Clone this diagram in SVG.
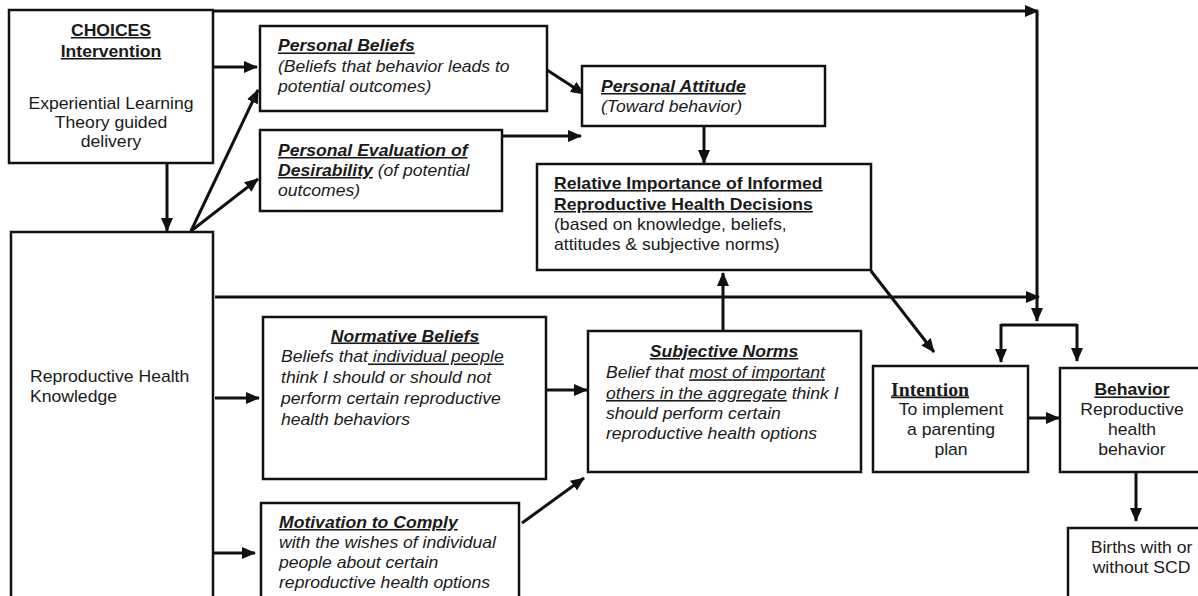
<svg xmlns="http://www.w3.org/2000/svg" width="1198" height="596" viewBox="0 0 1198 596">
<style>
.box{fill:#fff;stroke:#111;stroke-width:2.5}
.c{fill:none;stroke:#111;stroke-width:3}
.t{font-family:"Liberation Sans",Arial,sans-serif;font-size:16px;fill:#1a1a1a}
.i{font-style:italic}
.b{font-weight:bold}
.u{text-decoration:underline}
.m{text-anchor:middle}
.serif{font-family:"Liberation Serif","Times New Roman",serif;font-size:18px;font-weight:bold}
</style>
<defs>
<marker id="ah" markerUnits="userSpaceOnUse" markerWidth="14" markerHeight="12" refX="13" refY="6" orient="auto">
<path d="M0,0 L14,6 L0,12 z" fill="#111"/>
</marker>
</defs>
<rect width="1198" height="596" fill="#fff"/>

<g id="connectors">
<path class="c" d="M117,11 H1038" marker-end="url(#ah)"/>
<path class="c" d="M1037,11 V321" marker-end="url(#ah)"/>
<path class="c" d="M215,297 H1039" marker-end="url(#ah)"/>
<path class="c" d="M1001,325 H1077"/>
<path class="c" d="M1001,324 V362" marker-end="url(#ah)"/>
<path class="c" d="M1077,324 V361" marker-end="url(#ah)"/>
<path class="c" d="M213,67 H257" marker-end="url(#ah)"/>
<path class="c" d="M167,163 V231" marker-end="url(#ah)"/>
<path class="c" d="M191,231 L258,90" marker-end="url(#ah)"/>
<path class="c" d="M191,231 L258,179" marker-end="url(#ah)"/>
<path class="c" d="M547,70 L584,94" marker-end="url(#ah)"/>
<path class="c" d="M502,136 H581" marker-end="url(#ah)"/>
<path class="c" d="M704,126 V163" marker-end="url(#ah)"/>
<path class="c" d="M871,271 L934,352" marker-end="url(#ah)"/>
<path class="c" d="M723,331 V273" marker-end="url(#ah)"/>
<path class="c" d="M546,390 H587" marker-end="url(#ah)"/>
<path class="c" d="M215,398 H259" marker-end="url(#ah)"/>
<path class="c" d="M213,553 H255" marker-end="url(#ah)"/>
<path class="c" d="M522,523 L584,478" marker-end="url(#ah)"/>
<path class="c" d="M1029,418 H1059" marker-end="url(#ah)"/>
<path class="c" d="M1136,472 V521" marker-end="url(#ah)"/>
</g>

<g id="choices">
<rect class="box" x="9" y="10" width="204" height="153"/>
<text class="t b m" transform="translate(111,0) scale(1.1,1)"><tspan class="u" x="0" y="36">CHOICES</tspan><tspan class="u" x="0" y="57">Intervention</tspan></text>
<text class="t m" transform="translate(111,0) scale(1.1,1)"><tspan x="0" y="109">Experiential Learning</tspan><tspan x="0" y="128">Theory guided</tspan><tspan x="0" y="147">delivery</tspan></text>
</g>

<g id="personal-beliefs">
<rect class="box" x="260" y="26" width="287" height="85"/>
<text class="t i" transform="translate(278,0) scale(1.1,1)"><tspan class="b u" x="0" y="51.5">Personal Beliefs</tspan><tspan x="0" y="72.5">(Beliefs that behavior leads to</tspan><tspan x="0" y="92">potential outcomes)</tspan></text>
</g>

<g id="personal-evaluation">
<rect class="box" x="260" y="130" width="242" height="81"/>
<text class="t i" transform="translate(278,0) scale(1.1,1)"><tspan class="b u" x="0" y="156">Personal Evaluation of</tspan><tspan x="0" y="176"><tspan class="b u">Desirability</tspan> (of potential</tspan><tspan x="0" y="196">outcomes)</tspan></text>
</g>

<g id="personal-attitude">
<rect class="box" x="582" y="66" width="243" height="60"/>
<text class="t i" transform="translate(601,0) scale(1.1,1)"><tspan class="b u" x="0" y="92">Personal Attitude</tspan><tspan x="0" y="112"><tspan class="u">(</tspan>Toward behavior)</tspan></text>
</g>

<g id="relative-importance">
<rect class="box" x="537" y="164" width="334" height="106"/>
<text class="t" transform="translate(554,0) scale(1.1,1)"><tspan class="b u" x="0" y="189">Relative Importance of Informed</tspan><tspan class="b u" x="0" y="210">Reproductive Health Decisions</tspan><tspan x="0" y="230.5">(based on knowledge, beliefs,</tspan><tspan x="0" y="250.5">attitudes &amp; subjective norms)</tspan></text>
</g>

<g id="knowledge">
<rect class="box" x="11" y="232" width="202" height="372"/>
<text class="t" transform="translate(30,0) scale(1.1,1)"><tspan x="0" y="382.5">Reproductive Health</tspan><tspan x="0" y="402.5">Knowledge</tspan></text>
</g>

<g id="normative-beliefs">
<rect class="box" x="263" y="317" width="283" height="162"/>
<text class="t i b u m" transform="translate(405,341.5) scale(1.1,1)">Normative Beliefs</text>
<text class="t i" transform="translate(281,0) scale(1.1,1)"><tspan x="0" y="362.5">Beliefs that<tspan class="u"> individual people</tspan></tspan><tspan x="0" y="383.3">think I should or should not</tspan><tspan x="0" y="404.2">perform certain reproductive</tspan><tspan x="0" y="425">health behaviors</tspan></text>
</g>

<g id="motivation">
<rect class="box" x="261" y="503" width="258" height="100"/>
<text class="t i" transform="translate(279,0) scale(1.1,1)"><tspan class="b u" x="0" y="528">Motivation to Comply</tspan><tspan x="0" y="548">with the wishes of individual</tspan><tspan x="0" y="568">people about certain</tspan><tspan x="0" y="588">reproductive health options</tspan></text>
</g>

<g id="subjective-norms">
<rect class="box" x="588" y="331" width="273" height="141"/>
<text class="t i b u m" transform="translate(724,357) scale(1.1,1)">Subjective Norms</text>
<text class="t i" transform="translate(606,0) scale(1.1,1)"><tspan x="0" y="378.3">Belief that <tspan class="u">most of important</tspan></tspan><tspan x="0" y="399"><tspan class="u">others in the aggregate</tspan> think I</tspan><tspan x="0" y="419.3">should perform certain</tspan><tspan x="0" y="439.3">reproductive health options</tspan></text>
</g>

<g id="intention">
<rect class="box" x="873" y="366" width="155" height="106"/>
<text class="serif u" fill="#1a1a1a" transform="translate(891,395.5) scale(1.1,1)">Intention</text>
<text class="t m" transform="translate(951,0) scale(1.1,1)"><tspan x="0" y="415">To implement</tspan><tspan x="0" y="435">a parenting</tspan><tspan x="0" y="455">plan</tspan></text>
</g>

<g id="behavior">
<rect class="box" x="1060" y="368" width="145" height="104"/>
<text class="t m" transform="translate(1132,0) scale(1.1,1)"><tspan class="b u" x="0" y="395.5">Behavior</tspan><tspan x="0" y="415">Reproductive</tspan><tspan x="0" y="435">health</tspan><tspan x="0" y="455">behavior</tspan></text>
</g>

<g id="births">
<rect class="box" x="1068" y="528" width="140" height="80"/>
<text class="t m" transform="translate(1141.5,0) scale(1.1,1)"><tspan x="0" y="553.3">Births with or</tspan><tspan x="0" y="573.3">without SCD</tspan></text>
</g>
</svg>
